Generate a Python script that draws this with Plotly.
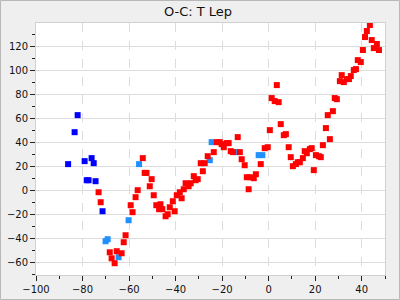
import plotly.graph_objects as go

red_x = [-73.1, -72.2, -68.3, -67.5, -66.2, -65.3, -63.2, -62.3, -61.5, -59.3, -58.5, -57.2, -56.3,
         -54.1, -53.3, -52.5, -51.1, -50.3, -49.4, -48.3, -46.5, -47.1, -45.7, -44.3, -43.4, -42.5,
         -41.2, -40.4, -39.5, -38.2, -37.4, -36.5, -35.7, -34.4, -33.5, -32.2, -31.4, -30.5, -29.2,
         -28.3, -27.5, -26.2, -23.6, -22.3, -21.0, -20.2, -19.3, -18.0, -17.2, -16.3, -15.4, -13.3,
         -12.4, -11.6, -10.3, -9.4, -8.6, -8.1, -6.4, -5.5, -3.4, -1.7, -0.4, 0.5, 1.3, 2.6, 3.5,
         4.3, 5.2, 6.5, 7.4, 8.6, 9.5, 10.4, 11.7, 12.5, 13.4, 14.7, 15.5, 16.4, 17.7, 18.5, 19.4,
         20.3, 21.6, 22.4, 23.3, 24.6, 25.4, 26.3, 27.6, 28.4, 29.3, 30.6, 31.4, 32.3, 33.6, 34.5,
         35.3, 36.6, 37.5, 38.3, 39.6, 40.5, 41.4, 42.2, 43.5, 44.3, 45.2, 46.5, 47.4]
red_y = [-1.7, -10, -51.7, -56.7, -60.8, -50.8, -52.5, -43.3, -37.5, -12.5, -18.3, -5.8, 0,
         26.7, 14.4, 14.4, 3.3, 9.2, -4.2, -12.5, -11.7, -15.8, -15.8, -21.7, -20, -14.2,
         -9.2, -17.5, -4.2, -1.7, -6.7, 0.8, 5.8, 3.3, 5.8, 11.7, 8.3, 9.2, 22.5,
         15.8, 22.5, 28.3, 31.7, 40, 40, 38.3, 35.8, 39.2, 39.2, 32.5, 31.7, 44.2,
         31.7, 25.8, 20.8, 10.8, 0.8, 10.8, 10, 13.3, 21.7, 35, 35.8, 50, 76.7, 74.2, 87.5,
         73.3, 55, 45.8, 46.7, 35.8, 27.5, 20, 21.7, 23.3, 23.3, 26.7, 32.5, 30.8, 34.2, 35, 16.7,
         29.2, 28.3, 27.5, 37.5, 51.7, 62.5, 42.5, 65.8, 76.7, 75.8, 90.8, 95.8, 90, 92.5, 92.5,
         95, 100, 100.8, 108.3, 106.7, 116.7, 127.5, 132.5, 137.5, 125, 118.3, 121.7, 116.7]

blue_x = [-86.2, -83.4, -82.1, -79.1, -76.1, -75.2, -78.2, -77.4, -74.4, -71.4]
blue_y = [21.7, 48.3, 62.5, 24.2, 26.7, 22.5, 8.3, 8.3, 7.5, -17.5]

lblue_x = [-70.1, -69.2, -64.5, -60.2, -55.7, -25.3, -24.5, -14.1, -4.3, -2.7]
lblue_y = [-42.5, -40.8, -55.8, -25, 21.7, 25, 40, 31.7, 29.2, 29.2]

x_range = [-100, 50]
y_range = [-70.6, 139.2]

fig = go.Figure()
for xs, ys, col in [(lblue_x, lblue_y, "#2090ff"), (blue_x, blue_y, "#0000ff"), (red_x, red_y, "#ff0000")]:
    fig.add_trace(go.Scatter(x=xs, y=ys, mode="markers",
                             marker=dict(symbol="square", size=6, color=col, line=dict(width=0)),
                             showlegend=False, hoverinfo="skip"))

W, H = 400, 300
ml, mr, mt, mb = 36, 15, 23, 25
pw, ph = W - ml - mr, H - mt - mb

axis_common = dict(dtick=20, tick0=0, ticks="outside", ticklen=5, tickcolor="#222", tickwidth=1,
                   showgrid=True, gridcolor="#dcdcdc", gridwidth=1, automargin=False,
                   showline=True, mirror=True, linecolor="#d0d0d0", linewidth=1, zeroline=False,
                   minor=dict(dtick=10, tick0=0, ticks="outside", ticklen=3, tickcolor="#222",
                              showgrid=False))

fig.update_layout(
    template="none",
    width=W, height=H,
    margin=dict(l=ml, r=mr, t=mt, b=mb, pad=0),
    paper_bgcolor="#efefef", plot_bgcolor="#ffffff",
    font=dict(family="DejaVu Sans", size=10, color="#111"),
    title=dict(text="O-C: T Lep", x=0.495, xanchor="center", y=0.962, yanchor="middle",
               font=dict(size=13, color="#111")),
    xaxis=dict(range=x_range, griddash="dash", **axis_common),
    yaxis=dict(range=y_range, **axis_common),
    shapes=[dict(type="rect", xref="paper", yref="paper",
                 x0=(-ml + 0.5) / pw, x1=(pw + mr - 0.5) / pw,
                 y0=(-mb + 0.5) / ph, y1=(ph + mt - 0.5) / ph,
                 line=dict(color="#b8b8b8", width=1), layer="below")],
)

fig.write_html("out.html")
